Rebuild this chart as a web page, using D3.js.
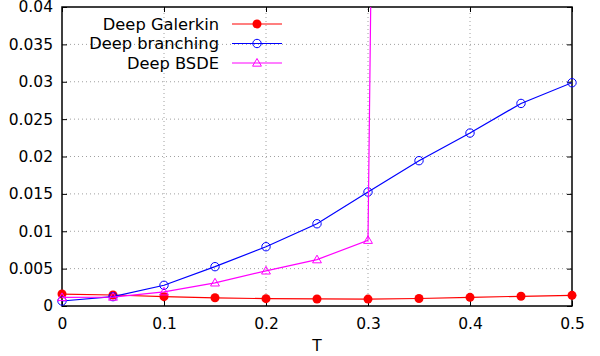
<!DOCTYPE html>
<html>
<head>
<meta charset="utf-8">
<script src="https://cdn.jsdelivr.net/npm/d3@7"></script>
<style>
  body { margin: 0; background: #fff; }
  svg { display: block; font-family: "DejaVu Sans", sans-serif; }
</style>
</head>
<body>
<svg id="chart"></svg>
<script>
const width = 600, height = 356;
const margin = { top: 7, right: 28, bottom: 50, left: 62 };
const font = "DejaVu Sans, sans-serif";

// maturity T
const tValues = [0, 0.05, 0.1, 0.15, 0.2, 0.25, 0.3, 0.35, 0.4, 0.45, 0.5];

// errors per method
const galerkin = [0.0016, 0.00147, 0.00125, 0.0011, 0.00098, 0.00094, 0.00092, 0.001, 0.00116, 0.0013, 0.00143];
const branching = [0.00067, 0.00125, 0.00277, 0.00526, 0.00793, 0.011, 0.01525, 0.01944, 0.02314, 0.0271, 0.02987];
const bsdeT = [0, 0.05, 0.1, 0.15, 0.2, 0.25, 0.3, 0.35];
const bsde = [0.00115, 0.0012, 0.0019, 0.0031, 0.0047, 0.0062, 0.0088, 0.6];

const xTicks = [0, 0.1, 0.2, 0.3, 0.4, 0.5];
const yTicks = [0, 0.005, 0.01, 0.015, 0.02, 0.025, 0.03, 0.035, 0.04];

const series = [
  { name: "Deep Galerkin", color: "#ff0000", marker: "dot", xs: tValues, ys: galerkin },
  { name: "Deep branching", color: "#0000ff", marker: "circle", xs: tValues, ys: branching },
  { name: "Deep BSDE", color: "#ff00ff", marker: "triangle", xs: bsdeT, ys: bsde }
];

const svg = d3.select("#chart").attr("width", width).attr("height", height);

const x = d3.scaleLinear().domain([0, 0.5]).range([margin.left, width - margin.right]);
const y = d3.scaleLinear().domain([0, 0.04]).range([height - margin.bottom, margin.top]);

svg.append("defs").append("clipPath").attr("id", "plot-clip")
  .append("rect")
  .attr("x", margin.left).attr("y", margin.top)
  .attr("width", x.range()[1] - margin.left)
  .attr("height", y.range()[0] - margin.top);

// dotted grid
const grid = svg.append("g").attr("stroke", "#a0a0a0").attr("stroke-width", 1).attr("stroke-dasharray", "1,3");
grid.selectAll("line.gx").data(xTicks.slice(1, -1)).join("line")
  .attr("x1", d => x(d)).attr("x2", d => x(d))
  .attr("y1", y(0)).attr("y2", y(0.04));
grid.selectAll("line.gy").data(yTicks.slice(1, -1)).join("line")
  .attr("x1", x(0)).attr("x2", x(0.5))
  .attr("y1", d => y(d)).attr("y2", d => y(d));

// axes with inward ticks, mirrored on top and right
const fmt = d => d === 0 ? "0" : String(+d.toFixed(3));
const xAxis = svg.append("g")
  .attr("transform", `translate(0,${y(0)})`)
  .call(d3.axisBottom(x).tickValues(xTicks).tickFormat(fmt).tickSizeInner(-5).tickSizeOuter(0).tickPadding(12));
const yAxis = svg.append("g")
  .attr("transform", `translate(${x(0)},0)`)
  .call(d3.axisLeft(y).tickValues(yTicks).tickFormat(fmt).tickSizeInner(-5).tickSizeOuter(0).tickPadding(9));
svg.append("g")
  .attr("transform", `translate(0,${y(0.04)})`)
  .call(d3.axisTop(x).tickValues(xTicks).tickFormat("").tickSizeInner(-5).tickSizeOuter(0));
svg.append("g")
  .attr("transform", `translate(${x(0.5)},0)`)
  .call(d3.axisRight(y).tickValues(yTicks).tickFormat("").tickSizeInner(-5).tickSizeOuter(0));

svg.selectAll(".domain").remove();
svg.selectAll(".tick line").attr("stroke", "#000");
[xAxis, yAxis].forEach(a => {
  a.attr("font-family", font);
  a.selectAll("text").attr("fill", "#000").style("font-size", "15.5px");
});

svg.append("rect")
  .attr("x", x(0)).attr("y", y(0.04))
  .attr("width", x(0.5) - x(0)).attr("height", y(0) - y(0.04))
  .attr("fill", "none").attr("stroke", "#000").attr("stroke-width", 1.5);

svg.append("text")
  .attr("x", x(0.25)).attr("y", 351)
  .attr("text-anchor", "middle")
  .attr("font-family", font)
  .style("font-size", "15.5px")
  .text("T");

function drawMarker(g, kind, color) {
  if (kind === "dot") {
    g.append("circle").attr("r", 4.5).attr("fill", color);
  } else if (kind === "circle") {
    g.append("circle").attr("r", 4.2).attr("fill", "none").attr("stroke", color).attr("stroke-width", 1);
  } else {
    g.append("path").attr("d", d3.symbol(d3.symbolTriangle, 34)()).attr("transform", "translate(0,0.6)")
      .attr("fill", "none").attr("stroke", color).attr("stroke-width", 1);
  }
}

const line = d3.line().x(d => x(d[0])).y(d => y(d[1]));

series.forEach(s => {
  const pts = s.xs.map((t, i) => [t, s.ys[i]]);
  svg.append("path")
    .datum(pts)
    .attr("clip-path", "url(#plot-clip)")
    .attr("fill", "none").attr("stroke", s.color).attr("stroke-width", 1.2)
    .attr("d", line);
  pts.filter(d => d[1] <= 0.04).forEach(d => {
    const g = svg.append("g").attr("transform", `translate(${x(d[0])},${y(d[1])})`);
    drawMarker(g, s.marker, s.color);
  });
});

// legend
const legend = svg.append("g");
series.forEach((s, i) => {
  const row = legend.append("g").attr("transform", `translate(0,${24 + i * 19.5})`);
  row.append("text")
    .attr("x", 219).attr("y", 0).attr("dy", "0.35em")
    .attr("text-anchor", "end")
    .attr("font-family", font)
    .style("font-size", "16.3px")
    .text(s.name);
  row.append("line")
    .attr("x1", 232).attr("x2", 282)
    .attr("stroke", s.color).attr("stroke-width", 1.2);
  const g = row.append("g").attr("transform", "translate(257,0)");
  drawMarker(g, s.marker, s.color);
});
</script>
</body>
</html>
